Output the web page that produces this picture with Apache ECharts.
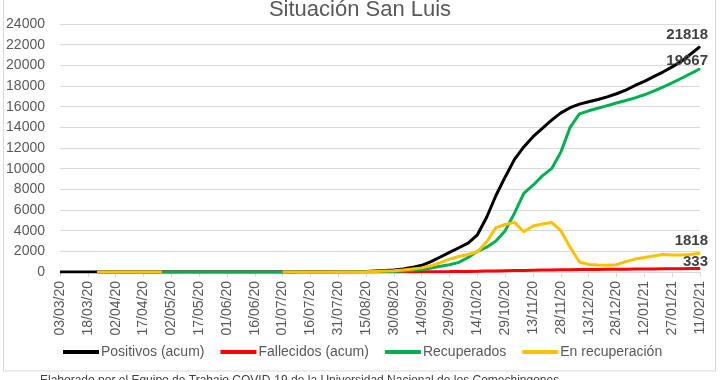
<!DOCTYPE html>
<html>
<head>
<meta charset="utf-8">
<script src="https://cdn.jsdelivr.net/npm/echarts@6/dist/echarts.min.js"></script>
<style>
html,body{margin:0;padding:0;background:#fff;}
#chart{width:720px;height:380px;}
</style>
</head>
<body>
<div id="chart"></div>
<script>
// Daily categories from 03/03/20 to 11/02/21 (axis tick labels every 15 days)
const startDate = Date.UTC(2020, 2, 3);
const dayCount = 346;
const categories = [];
for (let i = 0; i < dayCount; i++) {
  const d = new Date(startDate + i * 86400000);
  const dd = String(d.getUTCDate()).padStart(2, '0');
  const mm = String(d.getUTCMonth() + 1).padStart(2, '0');
  const yy = String(d.getUTCFullYear()).slice(2);
  categories.push(dd + '/' + mm + '/' + yy);
}

// Sampled day offsets (index into categories)
const sampleDays = [0,5,10,15,20,25,30,35,40,45,50,55,60,65,70,75,80,85,90,95,
  100,105,110,115,120,125,130,135,140,145,150,155,160,165,170,175,180,185,190,195,
  200,205,210,215,220,225,230,235,240,245,250,255,260,265,270,275,280,285,290,295,
  300,305,310,315,320,325,330,335,340,345];

const seriesNames = ['Positivos (acum)', 'Fallecidos (acum)', 'Recuperados', 'En recuperación'];

const positivos = [0,1,3,5,7,8,9,10,10,10,10,11,11,11,11,11,11,11,11,11,
  11,11,11,11,11,12,13,14,16,18,20,25,30,40,90,140,190,300,450,650,
  1000,1450,1900,2350,2800,3600,5300,7400,9200,10900,12100,13100,13900,14700,15400,15900,16250,16480,16700,16950,
  17250,17600,18050,18450,18900,19350,19850,20400,21100,21818];

const fallecidos = [null,null,null,null,0,0,0,0,0,0,0,0,0,0,0,0,0,0,0,0,
  0,0,0,0,0,0,0,0,0,0,0,0,0,0,0,1,2,5,10,15,
  22,30,38,48,58,70,85,100,120,138,155,172,188,200,212,222,232,240,248,256,
  264,272,280,288,296,304,313,320,327,333];

const recuperados = [null,null,null,null,0,0,1,2,3,4,5,6,7,8,8,9,9,9,10,10,
  10,10,10,10,10,11,11,11,12,12,13,14,15,20,30,45,60,90,140,230,
  380,550,700,930,1400,2000,2400,3000,4000,5700,7600,8400,9300,10000,11600,14000,15300,15600,15850,16100,
  16350,16600,16850,17150,17500,17900,18300,18750,19200,19667];

const enRecuperacion = [null,null,null,null,0,1,2,3,2,1,1,1,null,null,null,null,null,null,null,null,
  null,null,null,null,1,1,2,3,4,6,8,10,12,20,60,95,130,200,300,400,
  600,900,1250,1500,1700,1950,2900,4300,4600,4800,3900,4450,4650,4800,4000,2400,970,720,680,650,
  700,1000,1250,1400,1550,1700,1650,1650,1700,1818];

const colors = ['#000000', '#ff0000', '#00b050', '#ffc000'];
const labelOffsets = [[8, 0], [8, 5], [8, 4], [8, 0]];

function buildData(vals, k) {
  const out = [];
  for (let i = 0; i < sampleDays.length; i++) {
    const v = vals[i];
    if (i === sampleDays.length - 1) {
      out.push({
        value: [sampleDays[i], v],
        symbol: 'circle',
        symbolSize: 1,
        label: {
          show: true,
          position: 'top',
          align: 'right',
          distance: 4,
          offset: labelOffsets[k],
          fontFamily: 'Liberation Sans',
          fontSize: 15,
          fontWeight: 'bold',
          color: '#404040'
        }
      });
    } else {
      out.push([sampleDays[i], v === null ? '-' : v]);
    }
  }
  return out;
}

const allVals = [positivos, fallecidos, recuperados, enRecuperacion];
const series = allVals.map((vals, k) => ({
  name: seriesNames[k],
  type: 'line',
  data: buildData(vals, k),
  symbol: 'none',
  showAllSymbol: true,
  connectNulls: false,
  animation: false,
  lineStyle: { color: colors[k], width: 3 },
  itemStyle: { color: colors[k] },
  z: 2 + k
}));

const chart = echarts.init(document.getElementById('chart'));
chart.setOption({
  animation: false,
  backgroundColor: '#ffffff',
  title: {
    text: 'Situación San Luis',
    left: 'center',
    top: -6,
    textStyle: { fontFamily: 'Liberation Sans', fontSize: 22, fontWeight: 'normal', color: '#595959' }
  },
  grid: { left: 60, right: 20, top: 24, bottom: 108 },
  legend: {
    left: 58,
    top: 340,
    itemWidth: 36,
    itemHeight: 4,
    itemGap: 16,
    icon: 'rect',
    data: seriesNames,
    textStyle: { fontFamily: 'Liberation Sans', fontSize: 14, color: '#595959', padding: [0, 0, 0, -3] }
  },
  xAxis: {
    type: 'category',
    data: categories,
    boundaryGap: false,
    axisLine: { lineStyle: { color: '#d9d9d9', width: 1 } },
    axisTick: { show: true, interval: 14, length: 5, lineStyle: { color: '#d9d9d9' } },
    axisLabel: {
      interval: 14,
      rotate: 90,
      margin: 9,
      fontFamily: 'Liberation Sans',
      fontSize: 14,
      color: '#595959'
    },
    splitLine: { show: false }
  },
  yAxis: {
    type: 'value',
    min: 0,
    max: 24000,
    interval: 2000,
    axisLine: { show: false },
    axisTick: { show: false },
    axisLabel: {
      fontFamily: 'Liberation Sans', fontSize: 14, color: '#595959', margin: 15,
      formatter: function (v) { return String(v); }
    },
    splitLine: { lineStyle: { color: '#d9d9d9', width: 1 } }
  },
  graphic: [
    {
      type: 'rect',
      shape: { x: 3.5, y: -5, width: 712, height: 376 },
      style: { fill: 'none', stroke: '#d9d9d9', lineWidth: 1 },
      silent: true,
      z: -1
    },
    {
      type: 'text',
      left: 40,
      top: 375,
      style: {
        text: 'Elaborado por el Equipo de Trabajo COVID-19 de la Universidad Nacional de los Comechingones',
        fontFamily: 'Liberation Sans',
        fontSize: 12,
        fill: '#404040'
      }
    }
  ],
  series: series
});
</script>
</body>
</html>
